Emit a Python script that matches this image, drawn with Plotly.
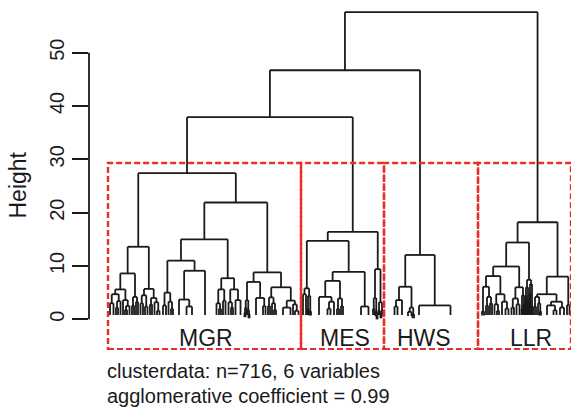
import plotly.graph_objects as go

# ---------------- data ----------------
# Dendrogram subtrees: [merge height, child, child, ...]
# an int child is a leaf group (its width in observations); a negative int is an empty gap
MGR = [27.4,
       [13.6,
        [8.6,
         [5.6,
          [4.7, [3.0, 4, 3], [3.4, [2.2, 2, 2], 3]],
          [3.6, 2, [2.5, [1.8, 2, 2], 3]]],
         [4.2, [2.6, 2, 2], [3.3, 2, 2]]],
        [5.7,
         [4.5, [3.0, 3, 2], [2.4, 2, 3]],
         [4.0, [2.8, 2, 2], [3.2, 3, [1.6, 2, 3]]]]],
       [21.9,
        [15.0,
         [11.0,
          [5.0, [2.6, 4, 2], [3.3, 3, [2.0, 2, 2]]],
          [9.1, [3.7, 10, [2.4, 5, 6]], 20]],
         [7.7,
          [5.6, [3.0, 3, [2.0, 2, 2]], [3.5, 2, 3]],
          [5.6, [3.2, 3, [2.2, 2, 2]], [3.6, 3, 7]]]],
        [8.8,
         [7.0, [3.6, [2.2, [1.2, 1, 1], 1], [1.8, 1, [1.0, 1, 1]]], [4.0, 12, [2.5, 2, 3]]],
         [6.0,
          [4.1, [2.5, 2, 2], [3.0, 2, [1.8, 2, 2]]],
          [3.5, [2.2, 12, 3], [2.8, 2, [1.6, 2, 5]]]]]]]

MES = [16.4,
       [14.7,
        [5.8, [4.7, 4, 2], [4.4, [2.0, 1, 1], [1.5, 1, 2]]],
        [8.9,
         [7.2, [4.2, 14, [3.3, [2.0, 3, 3], 4]], [3.9, [2.0, 2, 2], [2.5, 2, 2]]],
         [2.4, -13, 8, 7]]],
       [9.4,
        [4.0, [2.0, 2, 1], [1.4, 1, [0.8, 1, 1]]],
        [3.2, [1.8, 1, 1], [1.5, [1.0, 1, 1], 2]]]]

HWS = [12.06,
       [6.1,
        [3.6, -9, [2.4, 3, 3], 6],
        [2.2, [1.4, 6, 1], [1.0, 1, 2]]],
       [2.6, 8, 55]]

LLR = [18.2,
       [14.4,
        [9.9,
         [8.1,
          [6.1, -3, [1.5, 2, 2], [4.2, [2.6, 2, 2], [3.0, 2, 2]]],
          [4.7, [2.8, 3, [1.6, 2, 2]], [3.3, 4, [2.0, 3, 3]]]],
         [6.0, [3.9, [2.2, 3, 2], [2.8, 3, 3]], [4.5, [2.0, 1, 1], [3.0, 1, 1]]]],
        [7.4, [6.0, [4.5, 1, 1], [3.5, 1, 1]], [6.6, [5.0, 1, 1], [2.5, 1, 1]]]],
       [8.0,
        [4.7,
         [4.2, [2.4, 2, 2], [3.0, 2, [1.5, 1, 2]]],
         [3.3, [2.6, 10, [1.7, 3, 3]], [2.2, 4, 4]]],
        [2.7, 2, 3]]]

CLUSTER_NAMES = ["MGR", "MES", "HWS", "LLR"]
CLUSTER_TREES = [MGR, MES, HWS, LLR]
JOIN_HEIGHTS = [37.9, 46.7, 57.6]          # MGR+MES, then +HWS, then +LLR
LABEL_X = [97.5, 237, 316, 422.8]          # cluster label centres (observation units)
RECT_TOP, RECT_BOTTOM, LABEL_H = 29.3, -5.6, -3.5
Y_TICKS = [0, 10, 20, 30, 40, 50]
SUBTITLE = ["clusterdata: n=716, 6 variables", "agglomerative coefficient = 0.99"]
LEAF_END = 0.8

# ---------------- layout of the tree ----------------
xs_line, ys_line = [], []


def seg(x0, y0, x1, y1):
    xs_line.extend([x0, x1, None])
    ys_line.extend([y0, y1, None])


def place(node, cursor):
    """returns ((x, height or None), new cursor)"""
    if isinstance(node, int):
        if node < 0:
            return None, cursor - node
        return (cursor + node / 2.0, None), cursor + node
    h = node[0]
    kids = []
    for ch in node[1:]:
        r, cursor = place(ch, cursor)
        if r is not None:
            kids.append(r)
    for (cx, ch_h) in kids:
        bottom = ch_h if ch_h is not None else (LEAF_END if h > 2 * LEAF_END else h - LEAF_END)
        seg(cx, h, cx, bottom)
    seg(kids[0][0], h, kids[-1][0], h)
    return ((kids[0][0] + kids[-1][0]) / 2.0, h), cursor


cursor = 0
cluster_pos = []
bounds = [0]
for tree in CLUSTER_TREES:
    r, cursor = place(tree, cursor)
    cluster_pos.append(r)
    bounds.append(cursor)

# top joins
cur = cluster_pos[0]
for k, jh in enumerate(JOIN_HEIGHTS):
    other = cluster_pos[k + 1]
    seg(cur[0], jh, cur[0], cur[1])
    seg(other[0], jh, other[0], other[1])
    seg(cur[0], jh, other[0], jh)
    cur = ((cur[0] + other[0]) / 2.0, jh)

fig = go.Figure()
fig.add_trace(go.Scatter(x=xs_line, y=ys_line, mode="lines",
                         line=dict(color="#1a1a1a", width=1.8),
                         hoverinfo="skip", showlegend=False))

RED = "#E8302A"
for i in range(len(CLUSTER_NAMES)):
    fig.add_shape(type="rect", xref="x", yref="y",
                  x0=bounds[i], x1=bounds[i + 1], y0=RECT_BOTTOM, y1=RECT_TOP,
                  line=dict(color=RED, width=2.4, dash="6px,3px"))
    fig.add_annotation(x=LABEL_X[i], y=LABEL_H, xref="x", yref="y",
                       text=CLUSTER_NAMES[i], showarrow=False,
                       font=dict(size=23, color="#1a1a1a"))

# y axis line only from 0 to 50
fig.add_shape(type="line", xref="paper", yref="y", x0=0, x1=0,
              y0=Y_TICKS[0], y1=Y_TICKS[-1], line=dict(color="#1a1a1a", width=1.8))

fig.add_annotation(x=-0.1473, y=0.4768, xref="paper", yref="paper", text="Height",
                   textangle=-90, xanchor="center", yanchor="middle", showarrow=False,
                   font=dict(size=23, color="#1a1a1a"))
fig.add_annotation(x=0.0332, y=-0.06, xref="paper", yref="paper", text=SUBTITLE[0],
                   xanchor="left", yanchor="middle", showarrow=False,
                   font=dict(size=20, color="#1a1a1a"))
fig.add_annotation(x=0.0332, y=-0.134, xref="paper", yref="paper", text=SUBTITLE[1],
                   xanchor="left", yanchor="middle", showarrow=False,
                   font=dict(size=20, color="#1a1a1a"))

fig.update_layout(
    width=571, height=408,
    margin=dict(l=89, r=0, t=5, b=58),
    paper_bgcolor="white", plot_bgcolor="white",
    font=dict(family="Liberation Sans, Arial, Helvetica, sans-serif", color="#1a1a1a"),
    xaxis=dict(range=[-19, 463], visible=False, fixedrange=True),
    yaxis=dict(range=[-5.756, 58.93], tickvals=Y_TICKS, ticks="outside", ticklen=16,
               tickwidth=1.8, tickcolor="#1a1a1a", tickangle=-90, showgrid=False,
               zeroline=False, showline=False, automargin=False, fixedrange=True,
               tickfont=dict(size=20, color="#1a1a1a")),
)

fig.write_html("out.html", config={"displayModeBar": False},
               post_script="document.body.style.margin='0';document.body.style.overflow='hidden';")
